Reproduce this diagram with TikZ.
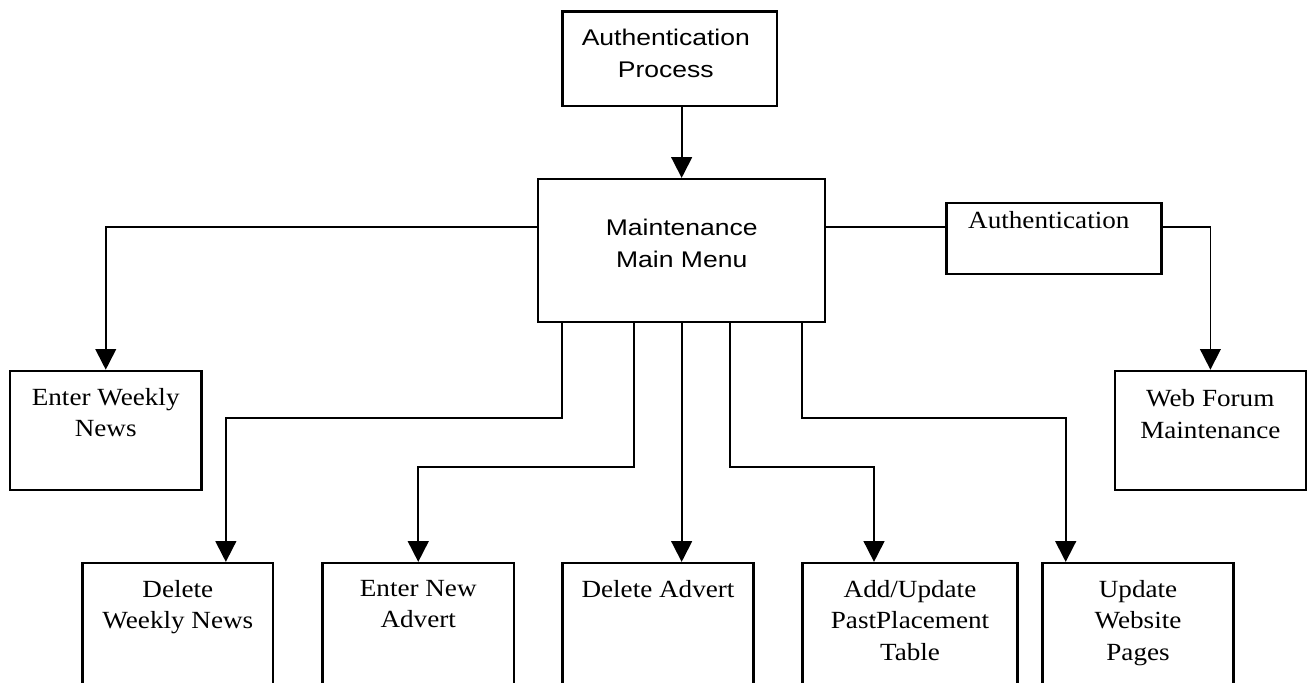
\documentclass[tikz,border=0pt]{standalone}
\usepackage{fontspec}
\setmainfont{Liberation Serif}[FakeStretch=1.1]
\newfontfamily\procfont{Liberation Sans}[FakeStretch=1.17]
\usetikzlibrary{arrows.meta,calc,fit}

\begin{document}
\begin{tikzpicture}[x=0.75pt,y=-0.75pt,
  box/.style={draw, line width=1.65pt, rectangle, inner sep=0pt},
  txt/.style={anchor=north, align=center, inner sep=0pt,
              font=\fontsize{18.5}{23.5}\selectfont},
  sanstxt/.style={anchor=north, align=center, inner sep=0pt,
              font=\procfont\fontsize{17}{24}\selectfont},
  link/.style={line width=1.35pt},
  arr/.style={link, -{Triangle[length=15.5pt,width=15.5pt]}}]

\useasboundingbox (0,0) rectangle (1308,682);
\clip (0,0) rectangle (1308,682);

% boxes
\node[box, fit={(562.5,11.5) (777.2,105.9)}]   (AP)   {};
\node[box, fit={(538,179) (825.3,322)}]        (Main) {};
\node[box, fit={(946.5,203) (1161.5,274)}]     (Auth) {};
\node[box, fit={(10,370.8) (201.5,490)}]       (EWN)  {};
\node[box, fit={(1114.8,370.8) (1306,490)}]    (WFM)  {};
\node[box, fit={(82.5,563) (273.2,700)}]       (DWN)  {};
\node[box, fit={(322.5,563) (514,700)}]        (ENA)  {};
\node[box, fit={(562.5,563) (753.5,700)}]      (DA)   {};
\node[box, fit={(802.5,563) (1017.5,700)}]     (AUP)  {};
\node[box, fit={(1042.5,563) (1233.5,700)}]    (UWP)  {};

% labels
\node[sanstxt] (APt)   at (665.8,28.5)  {Authentication\\Process};
\node[sanstxt] (Maint) at (681.7,219)   {Maintenance\\Main Menu};
\node[txt]     (Autht) at (1048.8,211.5){Authentication};
\node[txt]     (EWNt)  at (105.7,388)   {Enter Weekly\\News};
\node[txt]     (WFMt)  at (1210.3,389.5){Web Forum\\Maintenance};
\node[txt]     (DWNt)  at (DWN.north |- 0,580) {Delete\\Weekly News};
\node[txt]     (ENAt)  at (ENA.north |- 0,580) {Enter New\\Advert};
\node[txt]     (DAt)   at (DA.north |- 0,580)  {Delete Advert};
\node[txt]     (AUPt)  at (AUP.north |- 0,580) {Add/Update\\PastPlacement\\Table};
\node[txt]     (UWPt)  at (UWP.north |- 0,580) {Update\\Website\\Pages};

% routing levels
\coordinate (laneTop) at (0,226.7);
\coordinate (laneA)   at (0,418.3);
\coordinate (laneB)   at (0,466.7);

% exits under the main menu
\coordinate (mo1) at ($(Main.south)+(-120,0)$);
\coordinate (mo2) at ($(Main.south)+(-48,0)$);
\coordinate (mo3) at (Main.south);
\coordinate (mo4) at ($(Main.south)+(48,0)$);
\coordinate (mo5) at ($(Main.south)+(120,0)$);

% entries on the lower boxes
\coordinate (dwnIn) at ($(DWN.north)+(48,0)$);
\coordinate (aupIn) at ($(AUP.north)+(-36,0)$);
\coordinate (uwpIn) at ($(UWP.north)+(-72.3,0)$);

% connectors
\draw[arr] (AP.south -| Main.north) -- (Main.north);
\draw[arr] (Main.west |- laneTop) -| (EWN.north);
\draw[link] (Main.east |- laneTop) -- (Auth.west |- laneTop);
\draw[arr] (Auth.east |- laneTop) -| (WFM.north);

\draw[arr] (mo1) |- (laneA -| dwnIn) -- (dwnIn);
\draw[arr] (mo2) |- (laneB -| ENA.north) -- (ENA.north);
\draw[arr] (mo3) -- (mo3 |- DA.north);
\draw[arr] (mo4) |- (laneB -| aupIn) -- (aupIn);
\draw[arr] (mo5) |- (laneA -| uwpIn) -- (uwpIn);
\end{tikzpicture}
\end{document}
